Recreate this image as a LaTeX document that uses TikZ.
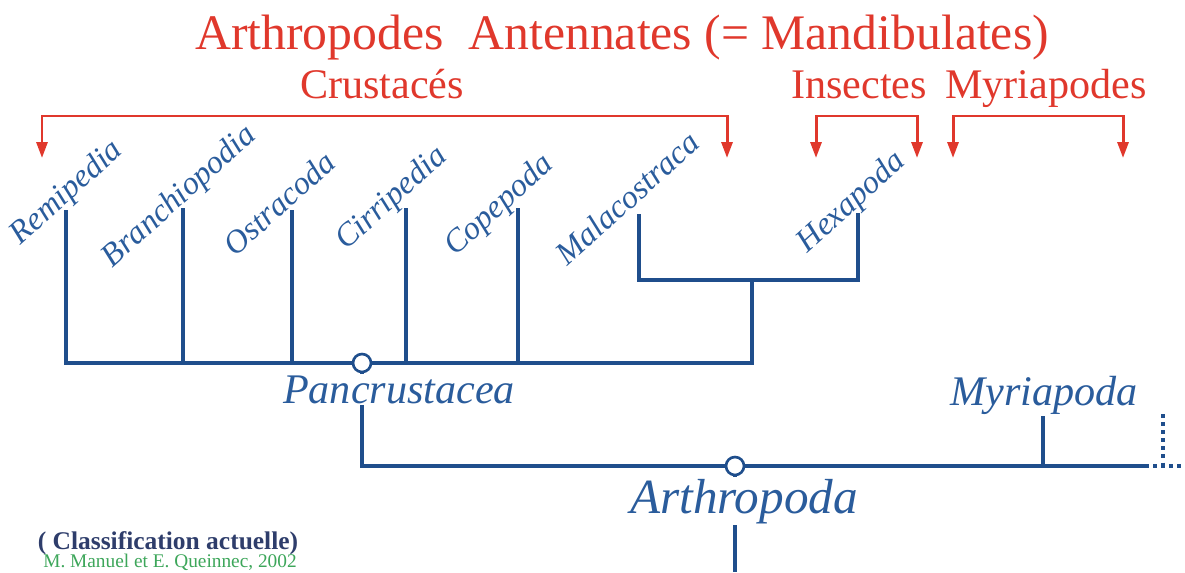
\documentclass[tikz,border=0pt]{standalone}
\usepackage{fontspec}
\setmainfont{Liberation Serif}
\usetikzlibrary{arrows.meta, backgrounds}
\definecolor{cred}{HTML}{E0382C}
\definecolor{cblue}{HTML}{1F4E8C}
\definecolor{ctext}{HTML}{2A5C9C}
\definecolor{cnavy}{HTML}{2E3D6B}
\definecolor{cgreen}{HTML}{3DA65A}
\tikzset{
  every picture/.style={line width=2.2pt},
  head/.style={text=cred, anchor=base, inner sep=0pt, font=\fontsize{24}{28}\selectfont},
  taxon/.style={text=ctext, rotate=42, inner sep=1pt, font=\fontsize{18.5}{20}\selectfont\itshape},
  clade/.style={circle, draw=cblue, fill=white, line width=1.5pt, minimum size=0.36cm, inner sep=0pt},
  cladename/.style={text=ctext, fill=white, anchor=base, inner sep=1pt, font=\fontsize{24}{28}\selectfont\itshape},
  branch/.style={draw=cblue, line width=2.2pt},
  bracket/.style={draw=cred, line width=1.7pt, {Triangle[length=3.2mm, width=2.2mm]}-{Triangle[length=3.2mm, width=2.2mm]}},
}

\begin{document}
\begin{tikzpicture}[x=0.02cm, y=-0.02cm]
  \useasboundingbox (0,0) rectangle (1185,572);
  % headings
  \node[head, font=\fontsize{28.3}{32}\selectfont] (title) at (622,49) {Arthropodes\ \ Antennates (= Mandibulates)};
  \node[head] (crus) at (382,98) {Crustacés};
  \node[head] (ins) at (859,98) {Insectes};
  \node[head] (myrs) at (1046,98) {Myriapodes};
  % red brackets
  \coordinate (redbar) at (0,116);
  \coordinate (crL) at (42,158);
  \coordinate (crR) at (727,158);
  \coordinate (insL) at (816,158);
  \coordinate (insR) at (917,158);
  \coordinate (myrL) at (953,158);
  \coordinate (myrR) at (1123,158);
  \draw[bracket] (crL) |- (crus |- redbar) -| (crR);
  \draw[bracket] (insL) |- (ins |- redbar) -| (insR);
  \draw[bracket] (myrL) |- (myrs |- redbar) -| (myrR);
  % taxa
  \node[taxon] (reminame) at (67,193) {Remipedia};
  \node[taxon] (branname) at (180,197) {Branchiopodia};
  \node[taxon] (ostrname) at (279,203) {Ostracoda};
  \node[taxon] (cirrname) at (392,199) {Cirripedia};
  \node[taxon] (copename) at (500,206) {Copepoda};
  \node[taxon] (malaname) at (627,198) {Malacostraca};
  \node[taxon] (hexaname) at (852,203) {Hexapoda};
  \coordinate (remi) at (66,210);
  \coordinate (bran) at (183,208);
  \coordinate (ostr) at (292,210);
  \coordinate (cirr) at (406,208);
  \coordinate (cope) at (518,208);
  \coordinate (mala) at (639,214);
  \coordinate (hexa) at (858,213);
  \coordinate (mh) at (752,280);
  % clades
  \node[clade] (panc) at (362,363) {};
  \node[clade] (arth) at (735,466) {};
  \node[cladename] (pancname) at (399,403) {Pancrustacea};
  \node[cladename] (myriname) at (1044,405) {Myriapoda};
  \node[cladename, font=\fontsize{28}{32}\selectfont\itshape] (arthname) at (744,513) {Arthropoda};
  \coordinate (myri) at (1043,412);
  \coordinate (arthend) at (1145,466);
  \coordinate (dotend) at (1185,466);
  \coordinate (dottop) at (1163,414);
  \coordinate (root) at (735,572);
  % tree
  \begin{scope}[on background layer]
    \draw[branch] (remi) |- (mh |- panc) -- (mh);
    \draw[branch] (mala) |- (mh) -| (hexa);
    \foreach \t in {bran, ostr, cirr, cope} \draw[branch] (\t) -- (\t |- panc);
    \draw[branch] (panc) |- (arthend);
    \draw[branch] (myri) -- (myri |- arth);
    \draw[branch] (arth) -- (root);
    \draw[branch, dash pattern=on 2pt off 2.6pt] (arthend) -- (dotend);
    \draw[branch, dash pattern=on 2pt off 2.6pt] (dottop) -- (dottop |- arth);
  \end{scope}
  % source
  \node[text=cnavy, anchor=base, font=\fontsize{14.5}{16}\selectfont\bfseries] (note) at (168,549) {( Classification actuelle)};
  \node[text=cgreen, anchor=base, font=\fontsize{11}{13}\selectfont] (cite) at (170,567) {M. Manuel et E. Queinnec, 2002};
\end{tikzpicture}
\end{document}
